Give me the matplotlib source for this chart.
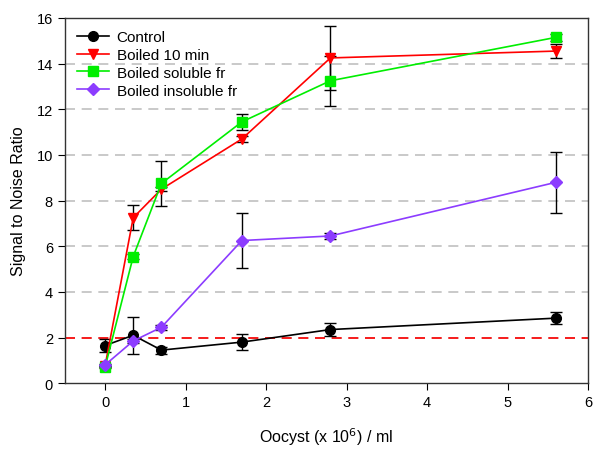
import matplotlib
matplotlib.use("Agg")
import matplotlib.pyplot as plt

plt.rcParams['font.family'] = ['Liberation Sans', 'DejaVu Sans']

# oocyst concentration (x 10^6 / ml)
conc = [0, 0.35, 0.7, 1.7, 2.8, 5.6]

control = [1.65, 2.1, 1.45, 1.8, 2.35, 2.85]
control_err = [0.3, 0.8, 0.15, 0.35, 0.3, 0.25]

boiled = [0.75, 7.25, 8.5, 10.7, 14.25, 14.55]
boiled_err = [0.05, 0.55, 0.1, 0.15, 1.4, 0.3]

soluble = [0.7, 5.55, 8.75, 11.45, 13.25, 15.15]
soluble_err = [0.05, 0.1, 1.0, 0.35, 1.1, 0.15]

insoluble = [0.8, 1.85, 2.45, 6.25, 6.45, 8.8]
insoluble_err = [0.05, 0.1, 0.1, 1.2, 0.15, 1.35]

fig = plt.figure(figsize=(6, 4.52), dpi=100)
ax = fig.add_axes([0.108, 0.150, 0.872, 0.808])

for y in range(2, 16, 2):
    ax.axhline(y, color='#c0c0c0', ls=(0, (6, 4)), lw=1.2, zorder=0)
ax.axhline(2, color='#ff0000', ls=(0, (6, 4)), lw=1.2, zorder=1)

series = [
    ('Control', control, control_err, 'black', 'o', 7),
    ('Boiled 10 min', boiled, boiled_err, '#ff0000', 'v', 7.5),
    ('Boiled soluble fr', soluble, soluble_err, '#00ee00', 's', 6.5),
    ('Boiled insoluble fr', insoluble, insoluble_err, '#8c3cff', 'D', 6.5),
]
for name, vals, err, col, mk, ms in series:
    ax.errorbar(conc, vals, yerr=err, fmt='none', ecolor='black',
                elinewidth=1, capsize=4, capthick=1, zorder=2)
    ax.plot(conc, vals, color=col, marker=mk, ms=ms, lw=1.2,
            markeredgecolor=col, label=name, zorder=3)

ax.set_xlim(-0.5, 6)
ax.set_ylim(0, 16)
ax.set_xticks(range(0, 7))
ax.set_yticks(range(0, 17, 2))
ax.tick_params(direction='out', length=5, labelsize=10.5)
ax.set_xlabel('Oocyst (x 10$^6$) / ml', fontsize=11.5, labelpad=12)
ax.set_ylabel('Signal to Noise Ratio', fontsize=11.5, labelpad=8)
for s in ax.spines.values():
    s.set_linewidth(1)
    s.set_color('#333333')

ax.legend(loc='upper left', frameon=False, fontsize=11,
          handlelength=2.1, handletextpad=0.5, labelspacing=0.25,
          borderaxespad=0.5, borderpad=0.3)

fig.savefig('out.png', dpi=100)
